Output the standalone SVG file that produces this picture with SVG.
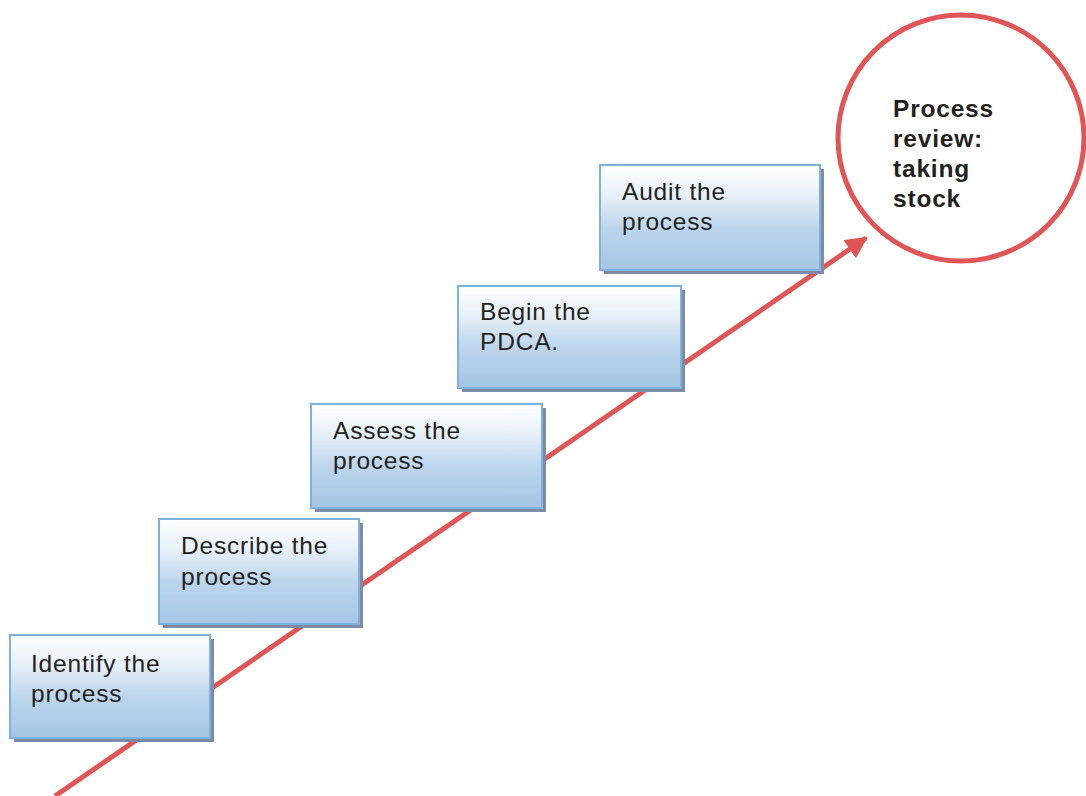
<svg xmlns="http://www.w3.org/2000/svg" width="1086" height="796" viewBox="0 0 1086 796">
<style>
.box{fill:url(#g);stroke:#7fb1dd;stroke-width:2}
.sh{fill:#7f8aa6}
.t{font-family:"Liberation Sans",Arial,sans-serif;font-size:24.5px;letter-spacing:0.8px;fill:#231f20}
.b{font-family:"Liberation Sans",Arial,sans-serif;font-size:24.5px;letter-spacing:0.8px;font-weight:bold;fill:#231f20}
</style>
<defs>
<linearGradient id="g" x1="0" y1="0" x2="0" y2="1">
<stop offset="0" stop-color="#ffffff"/>
<stop offset="0.3" stop-color="#e6eff8"/>
<stop offset="0.6" stop-color="#bcd5ec"/>
<stop offset="1" stop-color="#a6c6e5"/>
</linearGradient>
<marker id="ah" viewBox="0 0 10 10" refX="9" refY="5" markerWidth="4.4" markerHeight="4.4" orient="auto" markerUnits="strokeWidth">
<path d="M0,0 L10,5 L0,10 Z" fill="#e05656"/>
</marker>
</defs>
<g id="connectors">
<line x1="55" y1="796" x2="866" y2="238" stroke="#e05656" stroke-width="5" marker-end="url(#ah)"/>
</g>
<g id="identify">
<rect class="sh" x="14" y="639" width="200" height="103"/>
<rect class="box" x="10" y="635" width="200" height="103"/>
<text class="t" x="31" y="672">Identify the</text>
<text class="t" x="31" y="702">process</text>
</g>
<g id="describe">
<rect class="sh" x="163" y="523" width="200" height="105"/>
<rect class="box" x="159" y="519" width="200" height="105"/>
<text class="t" x="181" y="554">Describe the</text>
<text class="t" x="181" y="585">process</text>
</g>
<g id="assess">
<rect class="sh" x="315" y="408" width="231" height="104"/>
<rect class="box" x="311" y="404" width="231" height="104"/>
<text class="t" x="333" y="439">Assess the</text>
<text class="t" x="333" y="469">process</text>
</g>
<g id="begin">
<rect class="sh" x="462" y="290" width="223" height="102"/>
<rect class="box" x="458" y="286" width="223" height="102"/>
<text class="t" x="480" y="320">Begin the</text>
<text class="t" x="480" y="350">PDCA.</text>
</g>
<g id="audit">
<rect class="sh" x="604" y="169" width="220" height="105"/>
<rect class="box" x="600" y="165" width="220" height="105"/>
<text class="t" x="622" y="200">Audit the</text>
<text class="t" x="622" y="230">process</text>
</g>
<g id="review">
<circle cx="961" cy="138" r="123" fill="#ffffff" stroke="#e05656" stroke-width="5"/>
<text class="b" x="893" y="117">Process</text>
<text class="b" x="893" y="147">review:</text>
<text class="b" x="893" y="177">taking</text>
<text class="b" x="893" y="207">stock</text>
</g>
</svg>
